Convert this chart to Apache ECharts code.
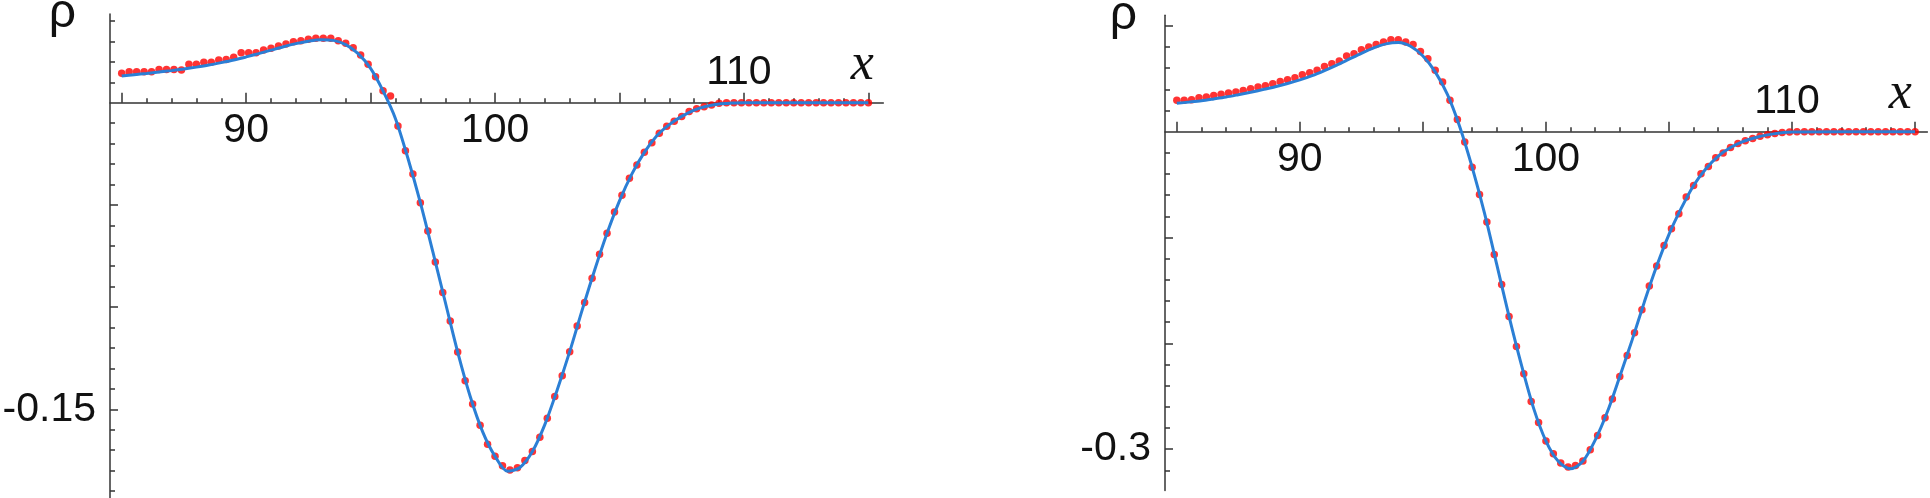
<!DOCTYPE html>
<html><head><meta charset="utf-8">
<script src="https://cdn.jsdelivr.net/npm/echarts@6/dist/echarts.min.js"></script>
<style>html,body{margin:0;padding:0;background:#fff}#c{width:1930px;height:498px}</style>
</head><body><div id="c"></div>
<script>
// sample positions of the red data points (shared by both panels)
const sampleX = [85,85.3,85.6,85.9,86.2,86.5,86.8,87.1,87.4,87.7,88,88.3,88.6,88.9,89.2,89.5,89.8,90.1,90.4,90.7,91,91.3,91.6,91.9,92.2,92.5,92.8,93.1,93.4,93.7,94,94.3,94.6,94.9,95.2,95.5,95.8,96.1,96.4,96.7,97,97.3,97.6,97.9,98.2,98.5,98.8,99.1,99.4,99.7,100,100.3,100.6,100.9,101.2,101.5,101.8,102.1,102.4,102.7,103,103.3,103.6,103.9,104.2,104.5,104.8,105.1,105.4,105.7,106,106.3,106.6,106.9,107.2,107.5,107.8,108.1,108.4,108.7,109,109.3,109.6,109.9,110.2,110.5,110.8,111.1,111.4,111.7,112,112.3,112.6,112.9,113.2,113.5,113.8,114.1,114.4,114.7,115];

const leftDots = [0.0144,0.0152,0.0152,0.0152,0.0152,0.0163,0.0163,0.0163,0.0160,0.0188,
 0.0188,0.0198,0.0198,0.0209,0.0212,0.0222,0.0245,0.0245,0.0245,0.0258,
 0.0266,0.0277,0.0287,0.0298,0.0303,0.0310,0.0315,0.0315,0.0315,0.0303,
 0.0291,0.0269,0.0233,0.0188,0.0127,0.0059,0.0033,-0.0114,-0.0235,-0.0349,
 -0.0489,-0.0628,-0.0779,-0.0929,-0.1068,-0.1220,-0.1360,-0.1474,-0.1578,-0.1671,
 -0.1730,-0.1776,-0.1797,-0.1786,-0.1751,-0.1707,-0.1637,-0.1544,-0.1438,-0.1336,
 -0.1218,-0.1092,-0.0977,-0.0859,-0.0742,-0.0639,-0.0535,-0.0453,-0.0370,-0.0305,
 -0.0243,-0.0196,-0.0150,-0.0115,-0.0091,-0.0067,-0.0043,-0.0030,-0.0020,-0.0011,
 -0.0003,0,0,0,0,0,0,0,0,0,
 0,0,0,0,0,0,0,0,0,0,0];

const rightDots = [0.0296,0.0296,0.0302,0.0321,0.0327,0.0343,0.0353,0.0365,0.0374,0.0390,
 0.0406,0.0422,0.0435,0.0454,0.0475,0.0491,0.0510,0.0539,0.0558,0.0580,
 0.0617,0.0643,0.0667,0.0715,0.0737,0.0775,0.0800,0.0825,0.0847,0.0869,
 0.0869,0.0847,0.0825,0.0759,0.0690,0.0580,0.0469,0.0296,0.0115,-0.0098,
 -0.0335,-0.0593,-0.0854,-0.1160,-0.1443,-0.1746,-0.2029,-0.2288,-0.2549,-0.2748,
 -0.2924,-0.3044,-0.3132,-0.3170,-0.3154,-0.3113,-0.3006,-0.2870,-0.2703,-0.2527,
 -0.2313,-0.2114,-0.1900,-0.1683,-0.1459,-0.1270,-0.1075,-0.0917,-0.0775,-0.0618,
 -0.0508,-0.0397,-0.0328,-0.0246,-0.0202,-0.0150,-0.0112,-0.0085,-0.0064,-0.0044,
 -0.0030,-0.0018,-0.0008,-0.0003,0,0,0,0,0,0,
 0,0,0,0,0,0,0,0,0,0,0];

// positions of the read points of the blue curves
const curveX = [85,85.5,86,86.5,87,87.5,88,88.5,89,89.5,90,90.5,91,91.5,92,92.5,93,93.5,94,94.5,95,95.5,96,96.5,97,97.5,98,98.5,99,99.5,100,100.5,101,101.5,102,102.5,103,103.5,104,104.5,105,105.5,106,106.5,107,107.5,108,108.5,109,109.5,110,115];

const leftCurve = [0.0131,0.0137,0.0143,0.0150,0.0157,0.0165,0.0174,0.0184,0.0196,0.0209,
 0.0224,0.0240,0.0257,0.0274,0.0289,0.0301,0.0308,0.0305,0.0284,0.0240,
 0.0168,0.0058,-0.0078,-0.0272,-0.0489,-0.0729,-0.0975,-0.1220,-0.1436,-0.1609,
 -0.1730,-0.1803,-0.1785,-0.1707,-0.1575,-0.1404,-0.1218,-0.1015,-0.0820,-0.0639,
 -0.0480,-0.0348,-0.0243,-0.0162,-0.0107,-0.0067,-0.0036,-0.0017,-0.0006,-0.0002,
 0,0];

const rightCurve = [0.0268,0.0280,0.0293,0.0310,0.0328,0.0350,0.0373,0.0398,0.0424,0.0455,
 0.0490,0.0530,0.0578,0.0630,0.0685,0.0740,0.0792,0.0830,0.0843,0.0808,
 0.0715,0.0565,0.0350,0.0045,-0.0335,-0.0767,-0.1254,-0.1746,-0.2202,-0.2615,
 -0.2924,-0.3115,-0.3185,-0.3115,-0.2915,-0.2645,-0.2313,-0.1970,-0.1608,-0.1270,
 -0.0970,-0.0723,-0.0508,-0.0351,-0.0231,-0.0150,-0.0094,-0.0057,-0.0030,-0.0012,
 -0.0002,0];

// ticks and tick labels
const xMajorTicks = [85,90,95,100,105,110,115];
const xMinorTicks = [86,87,88,89,91,92,93,94,96,97,98,99,101,102,103,104,106,107,108,109,111,112,113,114];
const xLabelsBelow = [90,100];
const xLabelsAbove = [110];
const leftYMajorTicks = [-0.15,-0.1,-0.05];
const leftYMinorTicks = [-0.19,-0.18,-0.17,-0.16,-0.14,-0.13,-0.12,-0.11,-0.09,-0.08,-0.07,-0.06,-0.04,-0.03,-0.02,-0.01,0.01,0.02,0.03,0.04];
const leftYLabels = [-0.15];
const rightYMajorTicks = [-0.3,-0.2,-0.1,0.1];
const rightYMinorTicks = [-0.32,-0.28,-0.26,-0.24,-0.22,-0.18,-0.16,-0.14,-0.12,-0.08,-0.06,-0.04,-0.02,0.02,0.04,0.06,0.08];
const rightYLabels = [-0.3];

const axisColor = '#333333';
const lblFont = {fontFamily:'Liberation Sans', fontSize:41, color:'#111111'};
const tickStyle = {color:axisColor, width:1.5};

function pairs(xs, ys){ return xs.map((x,i)=>[x, ys[i]]); }

// x axes: one hidden axis for the plot grid, two visible ones on the axis grid (bottom edge = zero line)
function makeX(plotGrid, axisGrid, min, max, nameGap){
  return [
    { type:'value', gridIndex:plotGrid, min, max, show:false },
    { type:'value', gridIndex:axisGrid, min, max, position:'bottom',
      axisLine:{show:true, onZero:false, lineStyle:{color:axisColor,width:1.5}},
      axisTick:{show:true, inside:true, length:10, customValues:xMajorTicks, lineStyle:tickStyle},
      axisLabel:Object.assign({show:true, customValues:xLabelsBelow, margin:7}, lblFont),
      splitLine:{show:false},
      name:'x', nameLocation:'end', nameGap:nameGap,
      nameTextStyle:{fontFamily:'Liberation Serif', fontStyle:'italic', fontSize:52, color:'#111111', align:'center', verticalAlign:'bottom', padding:[0,0,11,0]}
    },
    { type:'value', gridIndex:axisGrid, min, max, position:'bottom',
      axisLine:{show:false, onZero:false},
      axisTick:{show:true, inside:true, length:4.5, customValues:xMinorTicks, lineStyle:tickStyle},
      axisLabel:Object.assign({show:true, inside:true, customValues:xLabelsAbove, margin:10, padding:[0,10,0,0]}, lblFont),
      splitLine:{show:false}
    }
  ];
}
function makeY(plotGrid, axisGrid, min, max, major, minor, labels, namePad){
  return [
    { type:'value', gridIndex:plotGrid, min, max, position:'left',
      axisLine:{show:true, onZero:false, lineStyle:{color:axisColor,width:1.5}},
      axisTick:{show:true, inside:true, length:8, customValues:major, lineStyle:tickStyle},
      axisLabel:Object.assign({show:true, customValues:labels, margin:14}, lblFont),
      splitLine:{show:false},
      name:'ρ', nameLocation:'end', nameGap:0,
      nameTextStyle:{fontFamily:'Liberation Sans', fontSize:48, color:'#111111', align:'right', verticalAlign:'middle', padding:[0,namePad,0,0]}
    },
    { type:'value', gridIndex:plotGrid, min, max, position:'left',
      axisLine:{show:false, onZero:false},
      axisTick:{show:true, inside:true, length:5, customValues:minor, lineStyle:tickStyle},
      axisLabel:{show:false}, splitLine:{show:false}
    },
    { type:'value', gridIndex:axisGrid, min:0, max:1, show:false }
  ];
}

const chart = echarts.init(document.getElementById('c'));
chart.setOption({
  animation:false,
  backgroundColor:'#ffffff',
  grid:[
    {left:110, top:14, width:773.3, height:484, outerBoundsMode:'none', containLabel:false},
    {left:110, top:14, width:773.3, height:88.7, outerBoundsMode:'none', containLabel:false},
    {left:1165, top:15.3, width:762.4, height:475.1, outerBoundsMode:'none', containLabel:false},
    {left:1165, top:15.3, width:762.4, height:116.4, outerBoundsMode:'none', containLabel:false}
  ],
  xAxis:[].concat(makeX(0, 1, 84.53, 115.6, -21), makeX(2, 3, 84.52, 115.5, -27)),
  yAxis:[].concat(
    makeY(0, 1, -0.1934, 0.0434, leftYMajorTicks, leftYMinorTicks, leftYLabels, 34),
    makeY(2, 3, -0.339, 0.110, rightYMajorTicks, rightYMinorTicks, rightYLabels, 28)),
  series:[
    {type:'scatter', xAxisIndex:0, yAxisIndex:0, data:pairs(sampleX,leftDots), symbolSize:7.5, itemStyle:{color:'#ff0000'}, z:2, silent:true},
    {type:'line', xAxisIndex:0, yAxisIndex:0, data:pairs(curveX,leftCurve), smooth:0.3, showSymbol:false, lineStyle:{color:'#2b7fd5', width:3}, z:3, silent:true},
    {type:'scatter', xAxisIndex:3, yAxisIndex:3, data:pairs(sampleX,rightDots), symbolSize:7.5, itemStyle:{color:'#ff0000'}, z:2, silent:true},
    {type:'line', xAxisIndex:3, yAxisIndex:3, data:pairs(curveX,rightCurve), smooth:0.3, showSymbol:false, lineStyle:{color:'#2b7fd5', width:3}, z:3, silent:true}
  ]
});
</script></body></html>
